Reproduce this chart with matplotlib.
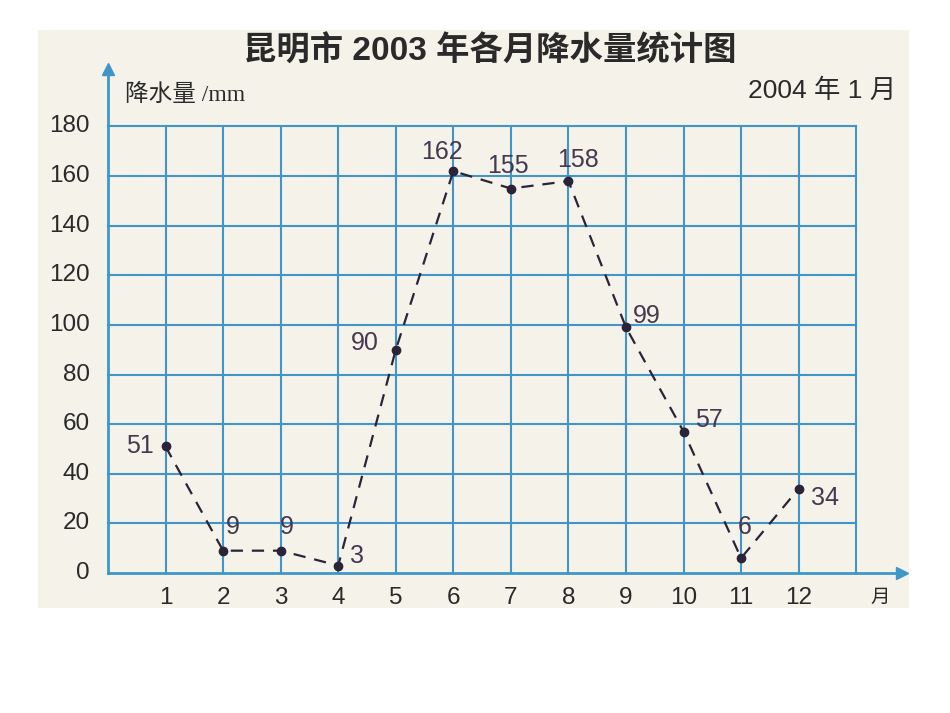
import matplotlib
matplotlib.use("Agg")
import matplotlib.pyplot as plt

plt.rcParams['font.family'] = ['Liberation Sans', 'Noto Sans CJK SC', 'DejaVu Sans']

title = "昆明市 2003 年各月降水量统计图"
ylabel = "降水量 /mm"
date_note = "2004 年 1 月"
xlabel = "月"
months = [1, 2, 3, 4, 5, 6, 7, 8, 9, 10, 11, 12]
rain = [51, 9, 9, 3, 90, 162, 155, 158, 99, 57, 6, 34]
yticks = [0, 20, 40, 60, 80, 100, 120, 140, 160, 180]

# label offsets in pixels (dx, dy up positive)
label_off = [(-26, 0), (10, 24), (6, 24), (19, 10), (-31, 7), (-11, 19),
             (-3, 23), (10, 21), (21, 11), (25, 12), (4, 31), (26, -9)]

W, H = 950, 713
fig = plt.figure(figsize=(9.5, 7.13), dpi=100)
fig.patch.set_facecolor('white')

bgax = fig.add_axes([38 / W, 1 - 608 / H, (909 - 38) / W, (608 - 30) / H], zorder=0)
bgax.set_facecolor('#f5f2ea')
bgax.set_xticks([]); bgax.set_yticks([])
for s in bgax.spines.values():
    s.set_visible(False)

ax = fig.add_axes([108 / W, 1 - 573 / H, 800 / W, (573 - 62) / H], zorder=1)
ax.set_xlim(0, 13.9)
ax.set_ylim(0, 206)
ax.axis('off')
ax.patch.set_alpha(0)

grid_c = '#4096c8'
xmax_grid = 13
for v in yticks[1:]:
    ax.plot([0, xmax_grid], [v, v], color=grid_c, lw=1.5, zorder=1, clip_on=False)
for m in months + [13]:
    ax.plot([m, m], [0, 180], color=grid_c, lw=1.5, zorder=1, clip_on=False)

# axes with arrows
ax.plot([0, 13.75], [0, 0], color=grid_c, lw=2.0, zorder=2, clip_on=False)
ax.plot([0, 0], [0, 202], color=grid_c, lw=2.0, zorder=2, clip_on=False)
ax.plot([13.8], [0], marker='>', ms=9, color=grid_c, clip_on=False, zorder=2)
ax.plot([0], [203], marker='^', ms=9, color=grid_c, clip_on=False, zorder=2)

txt_c = '#2a2a2a'
for v in yticks:
    ax.annotate(str(v), xy=(0, v), xytext=(-18 * 0.72, 0), textcoords='offset points',
                ha='right', va='center', fontsize=17.5, color=txt_c)
for m in months:
    ax.annotate(str(m), xy=(m, 0), xytext=(0, -25 * 0.72), textcoords='offset points',
                ha='center', va='center', fontsize=17.5, color=txt_c)
ax.annotate(xlabel, xy=(13.5, 0), xytext=(-5 * 0.72, -24 * 0.72), textcoords='offset points',
            ha='center', va='center', fontsize=14, color=txt_c, family=['Noto Sans CJK SC'])

line_c = '#2b2338'
ax.plot(months, rain, color=line_c, lw=1.6, ls=(0, (5.5, 4)), zorder=3, clip_on=False)
ax.plot(months, rain, 'o', color=line_c, ms=6, zorder=4, clip_on=False)

lab_c = '#45384f'
for m, v, (dx, dy) in zip(months, rain, label_off):
    ax.annotate(str(v), xy=(m, v), xytext=(dx * 0.72, dy * 0.72), textcoords='offset points',
                ha='center', va='center', fontsize=18, color=lab_c, zorder=5)

fig.text(490 / W, 1 - 52 / H, title, ha='center', va='center', fontsize=24,
         fontweight='bold', color=txt_c)
fig.text(125 / W, 1 - 95 / H, ylabel, ha='left', va='center', fontsize=17, color=txt_c,
         family=['Liberation Serif', 'Noto Sans CJK SC'])
fig.text(896 / W, 1 - 91 / H, date_note, ha='right', va='center', fontsize=19, color=txt_c)

fig.savefig('out.png', dpi=100)
